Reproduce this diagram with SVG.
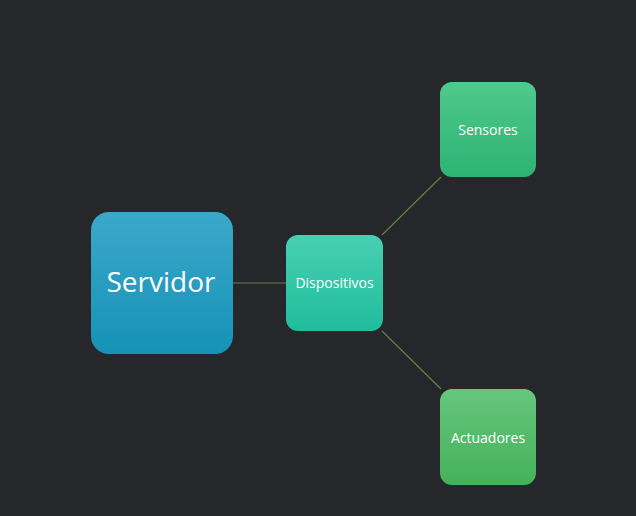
<svg xmlns="http://www.w3.org/2000/svg" width="636" height="516" viewBox="0 0 636 516">
<defs>
<linearGradient id="gS" x1="0" y1="0" x2="0" y2="1"><stop offset="0" stop-color="#3ba8ca"/><stop offset="1" stop-color="#1592b7"/></linearGradient>
<linearGradient id="gD" x1="0" y1="0" x2="0" y2="1"><stop offset="0" stop-color="#48d0b2"/><stop offset="1" stop-color="#1fbd9c"/></linearGradient>
<linearGradient id="gSe" x1="0" y1="0" x2="0" y2="1"><stop offset="0" stop-color="#50c98d"/><stop offset="1" stop-color="#2cb373"/></linearGradient>
<linearGradient id="gA" x1="0" y1="0" x2="0" y2="1"><stop offset="0" stop-color="#66c67d"/><stop offset="1" stop-color="#44b159"/></linearGradient>
</defs>
<style>
text{font-family:"Open Sans","Liberation Sans",sans-serif;fill:#ffffff;text-anchor:middle;dominant-baseline:central}
.small{font-size:14px;font-weight:500}
.big{font-size:28px}
.edge{stroke:#5a8548;stroke-width:1.2;fill:none}
</style>
<rect width="636" height="516" fill="#26272b"/>
<g id="connectors">
<line class="edge" x1="233" y1="283" x2="286" y2="283"/>
<line class="edge" x1="382" y1="235" x2="441" y2="177"/>
<line class="edge" x1="382" y1="331" x2="441" y2="389"/>
</g>
<g id="servidor">
<rect x="91" y="212" width="142" height="142" rx="18" fill="url(#gS)"/>
<text class="big" x="161" y="281">Servidor</text>
</g>
<g id="dispositivos">
<rect x="286" y="235" width="97" height="96" rx="12" fill="url(#gD)"/>
<text class="small" x="334.5" y="282">Dispositivos</text>
</g>
<g id="sensores">
<rect x="440" y="82" width="96" height="95" rx="12" fill="url(#gSe)"/>
<text class="small" x="488" y="129">Sensores</text>
</g>
<g id="actuadores">
<rect x="440" y="389" width="96" height="96" rx="12" fill="url(#gA)"/>
<text class="small" x="488" y="437">Actuadores</text>
</g>
</svg>
